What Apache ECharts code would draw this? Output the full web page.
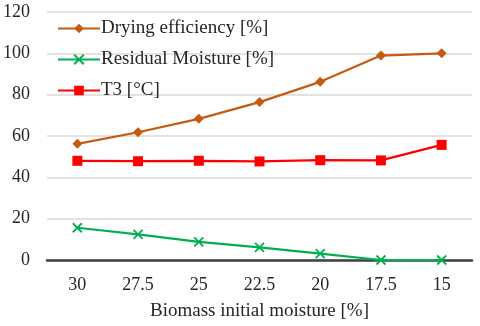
<!DOCTYPE html>
<html>
<head>
<meta charset="utf-8">
<script src="https://cdn.jsdelivr.net/npm/echarts@6/dist/echarts.min.js"></script>
<style>
html,body{margin:0;padding:0;background:#fff;}
#chart{width:480px;height:326px;}
</style>
</head>
<body>
<div id="chart"></div>
<script>
var categories = ['30', '27.5', '25', '22.5', '20', '17.5', '15'];
var dryingEff = [56.2, 61.8, 68.3, 76.4, 86.2, 98.9, 100];
var residual = [15.6, 12.4, 8.8, 6.1, 3.1, 0, 0];
var t3 = [48, 47.8, 48, 47.7, 48.3, 48.2, 55.7];
var yTicks = [0, 20, 40, 60, 80, 100, 120];

var font = '"Liberation Serif", "Times New Roman", serif';
var xMark = 'path://M0,0L10,10M10,0L0,10';

var myChart = echarts.init(document.getElementById('chart'));
var option = {
    animation: false,
    textStyle: { fontFamily: font },
    grid: { left: 47, right: 8, top: 12, bottom: 66 },
    legend: {
        orient: 'vertical',
        left: 52,
        top: 14,
        itemWidth: 42,
        itemHeight: 12,
        itemGap: 12,
        textStyle: { fontFamily: font, fontSize: 19, color: '#262626', padding: [0, 0, 0, -4] },
        data: ['Drying efficiency [%]', 'Residual Moisture [%]', 'T3 [°C]']
    },
    xAxis: {
        type: 'category',
        data: categories,
        boundaryGap: true,
        name: 'Biomass initial moisture [%]',
        nameLocation: 'middle',
        nameGap: 42,
        nameTextStyle: { fontFamily: font, fontSize: 19, color: '#262626' },
        axisLine: { show: true, onZero: true, lineStyle: { color: '#404040', width: 2.5 } },
        axisTick: { show: false },
        axisLabel: { fontFamily: font, fontSize: 18, color: '#262626', margin: 16 }
    },
    yAxis: {
        type: 'value',
        min: yTicks[0],
        max: yTicks[yTicks.length - 1],
        interval: 20,
        axisLine: { show: false },
        axisTick: { show: false },
        axisLabel: { fontFamily: font, fontSize: 18, color: '#262626', margin: 17 },
        splitLine: { lineStyle: { color: '#d9d9d9', width: 1.5 } }
    },
    series: [
        {
            name: 'Drying efficiency [%]',
            type: 'line',
            data: dryingEff,
            symbol: 'diamond',
            symbolSize: 10,
            lineStyle: { color: '#C55A11', width: 2.2 },
            itemStyle: { color: '#C55A11' }
        },
        {
            name: 'Residual Moisture [%]',
            type: 'line',
            data: residual,
            symbol: xMark,
            symbolSize: 9,
            lineStyle: { color: '#00B050', width: 2.2 },
            itemStyle: { color: '#00B050', borderColor: '#00B050', borderWidth: 1.8 }
        },
        {
            name: 'T3 [°C]',
            type: 'line',
            data: t3,
            symbol: 'rect',
            symbolSize: 10,
            lineStyle: { color: '#FF0000', width: 2.2 },
            itemStyle: { color: '#FF0000' }
        }
    ]
};
myChart.setOption(option);
</script>
</body>
</html>
